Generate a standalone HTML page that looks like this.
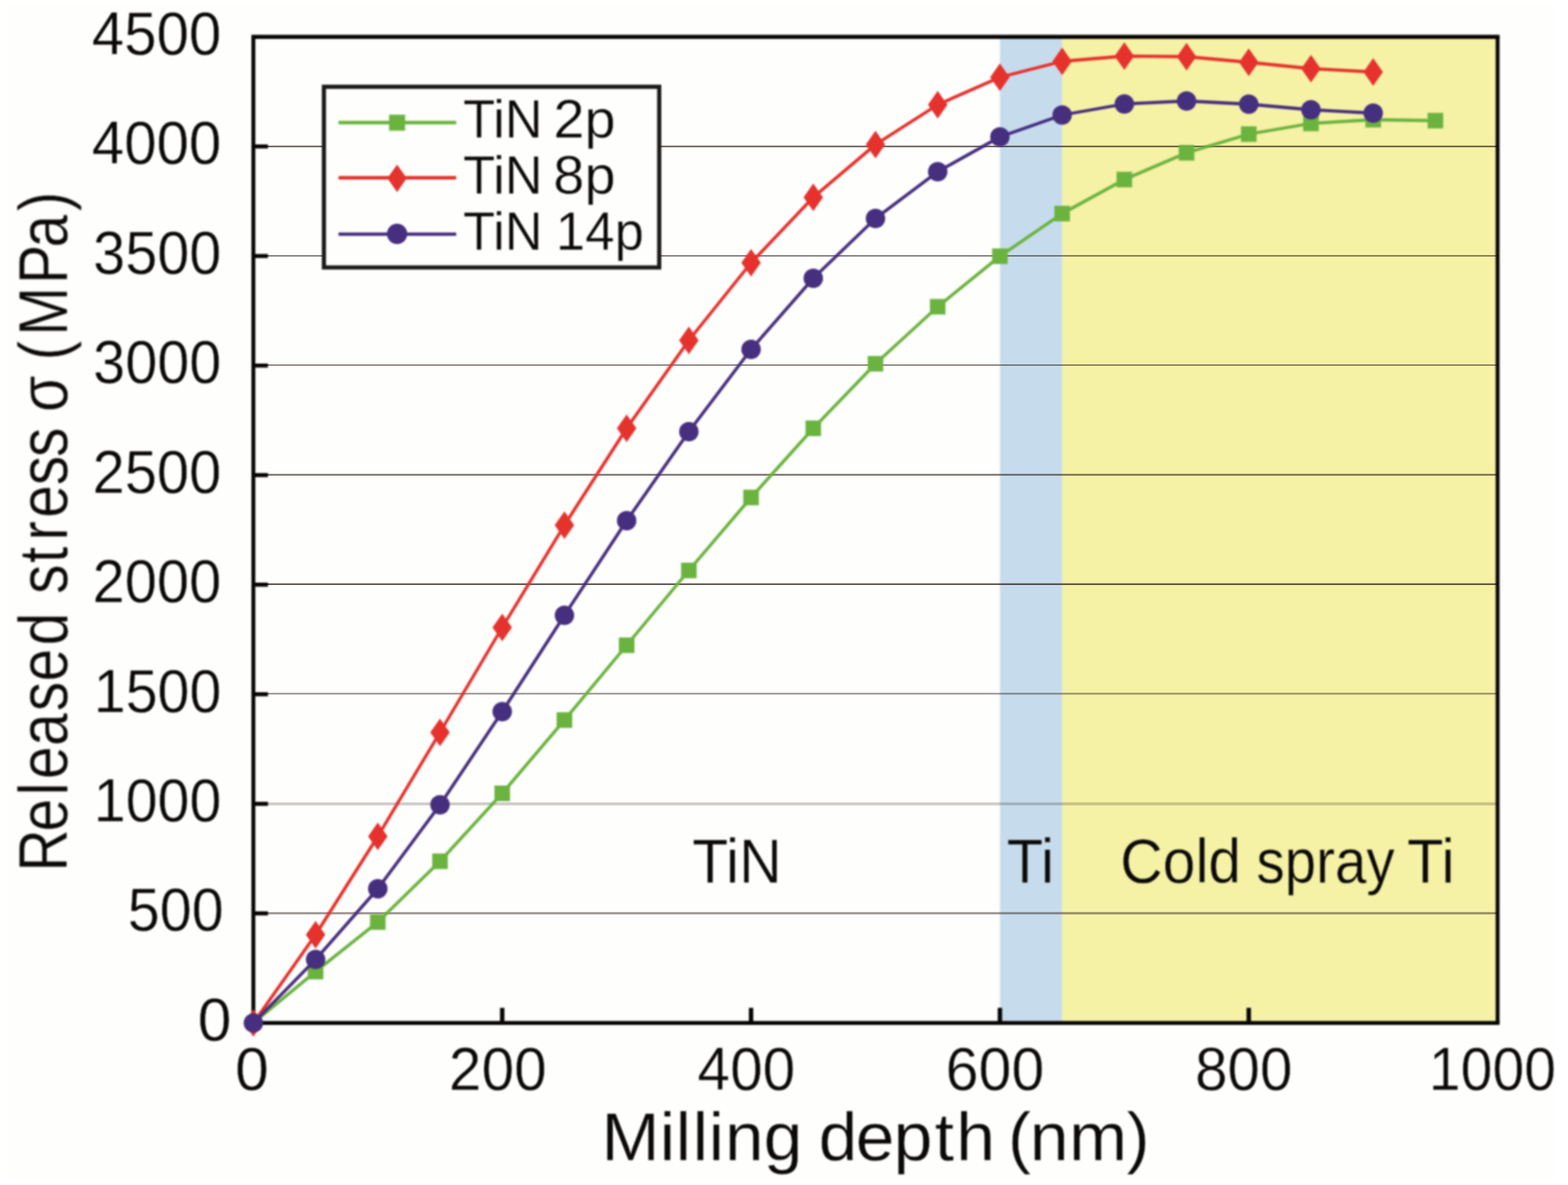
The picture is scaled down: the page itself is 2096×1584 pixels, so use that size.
<!DOCTYPE html>
<html lang="en"><head><meta charset="utf-8"><title>Released stress vs milling depth</title>
<style>html,body{margin:0;padding:0;background:#fff;}body{width:2096px;height:1584px;overflow:hidden;}svg{display:block;}text{font-family:"Liberation Sans",sans-serif;fill:#0b0a09;}</style>
</head><body>
<svg width="2096" height="1584" viewBox="0 0 2096 1584">
<defs><filter id="soft" x="0" y="0" width="2096" height="1584" filterUnits="userSpaceOnUse" color-interpolation-filters="sRGB"><feGaussianBlur stdDeviation="1.2"/></filter><filter id="soft3" x="0" y="0" width="2096" height="1584" filterUnits="userSpaceOnUse" color-interpolation-filters="sRGB"><feGaussianBlur stdDeviation="0.9"/></filter><filter id="soft2" x="0" y="0" width="2096" height="1584" filterUnits="userSpaceOnUse" color-interpolation-filters="sRGB"><feGaussianBlur stdDeviation="0.7"/></filter></defs>
<rect x="0" y="0" width="2096" height="1584" fill="#ffffff"/>
<g id="all" filter="url(#soft)">
<rect x="11" y="2" width="2068" height="1574" fill="#fefefc"/>
<rect x="1336.62" y="49.3" width="83.16" height="1318.1" fill="#c6dced"/>
<rect x="1419.78" y="49.3" width="582.12" height="1318.1" fill="#f5f1a5"/>
</g>
<g id="grid" filter="url(#soft2)" stroke="#2b1d17">
<line x1="338.7" x2="2001.9" y1="1220.64" y2="1220.64" stroke-opacity="0.46" stroke-width="3"/>
<line x1="338.7" x2="2001.9" y1="1074.49" y2="1074.49" stroke-opacity="0.22" stroke-width="3.8"/>
<line x1="338.7" x2="2001.9" y1="927.23" y2="927.23" stroke-opacity="0.42" stroke-width="2.4"/>
<line x1="338.7" x2="2001.9" y1="780.78" y2="780.78" stroke-opacity="0.74" stroke-width="2.2"/>
<line x1="338.7" x2="2001.9" y1="634.62" y2="634.62" stroke-opacity="0.65" stroke-width="2.3"/>
<line x1="338.7" x2="2001.9" y1="488.07" y2="488.07" stroke-opacity="0.53" stroke-width="2.1"/>
<line x1="338.7" x2="2001.9" y1="342.01" y2="342.01" stroke-opacity="0.56" stroke-width="2.2"/>
<line x1="338.7" x2="2001.9" y1="195.76" y2="195.76" stroke-opacity="0.74" stroke-width="2.1"/>
</g>
<g id="fg" filter="url(#soft)">
<line x1="338.7" x2="358.2" y1="1220.94" y2="1220.94" stroke="#070605" stroke-width="5.4"/>
<line x1="338.7" x2="358.2" y1="1074.49" y2="1074.49" stroke="#070605" stroke-width="5.4"/>
<line x1="338.7" x2="358.2" y1="928.03" y2="928.03" stroke="#070605" stroke-width="5.4"/>
<line x1="338.7" x2="358.2" y1="781.58" y2="781.58" stroke="#070605" stroke-width="5.4"/>
<line x1="338.7" x2="358.2" y1="635.12" y2="635.12" stroke="#070605" stroke-width="5.4"/>
<line x1="338.7" x2="358.2" y1="488.67" y2="488.67" stroke="#070605" stroke-width="5.4"/>
<line x1="338.7" x2="358.2" y1="342.21" y2="342.21" stroke="#070605" stroke-width="5.4"/>
<line x1="338.7" x2="358.2" y1="195.76" y2="195.76" stroke="#070605" stroke-width="5.4"/>
<line x1="671.34" x2="671.34" y1="1367.4" y2="1347.2" stroke="#070605" stroke-width="5.9"/>
<line x1="1003.98" x2="1003.98" y1="1367.4" y2="1347.2" stroke="#070605" stroke-width="5.9"/>
<line x1="1336.62" x2="1336.62" y1="1367.4" y2="1347.2" stroke="#070605" stroke-width="5.9"/>
<line x1="1669.26" x2="1669.26" y1="1367.4" y2="1347.2" stroke="#070605" stroke-width="5.9"/>
<path d="M336.1 49.3H2004.5" fill="none" stroke="#070605" stroke-width="5.6"/>
<path d="M336.1 1367.4H2004.5" fill="none" stroke="#070605" stroke-width="5.2"/>
<path d="M338.7 49.3V1367.4M2001.9 49.3V1367.4" fill="none" stroke="#070605" stroke-width="5.2"/>
<polyline points="338.7,1367.4 421.86,1298.75 505.02,1232.5 588.18,1151.25 671.34,1060.5 754.5,962.5 837.66,862.5 920.82,762.5 1003.98,665 1087.14,572.5 1170.3,486.25 1253.46,410 1336.62,342.5 1419.78,285.5 1502.94,240 1586.1,204.25 1669.26,179.25 1752.42,165 1835.58,160 1918.74,161.25" fill="none" stroke="#6bb33f" stroke-width="4.3" stroke-linejoin="round"/>
<rect x="411.46" y="1288.35" width="20.8" height="20.8" fill="#6bb33f"/>
<rect x="494.62" y="1222.1" width="20.8" height="20.8" fill="#6bb33f"/>
<rect x="577.78" y="1140.85" width="20.8" height="20.8" fill="#6bb33f"/>
<rect x="660.94" y="1050.1" width="20.8" height="20.8" fill="#6bb33f"/>
<rect x="744.1" y="952.1" width="20.8" height="20.8" fill="#6bb33f"/>
<rect x="827.26" y="852.1" width="20.8" height="20.8" fill="#6bb33f"/>
<rect x="910.42" y="752.1" width="20.8" height="20.8" fill="#6bb33f"/>
<rect x="993.58" y="654.6" width="20.8" height="20.8" fill="#6bb33f"/>
<rect x="1076.74" y="562.1" width="20.8" height="20.8" fill="#6bb33f"/>
<rect x="1159.9" y="475.85" width="20.8" height="20.8" fill="#6bb33f"/>
<rect x="1243.06" y="399.6" width="20.8" height="20.8" fill="#6bb33f"/>
<rect x="1326.22" y="332.1" width="20.8" height="20.8" fill="#6bb33f"/>
<rect x="1409.38" y="275.1" width="20.8" height="20.8" fill="#6bb33f"/>
<rect x="1492.54" y="229.6" width="20.8" height="20.8" fill="#6bb33f"/>
<rect x="1575.7" y="193.85" width="20.8" height="20.8" fill="#6bb33f"/>
<rect x="1658.86" y="168.85" width="20.8" height="20.8" fill="#6bb33f"/>
<rect x="1742.02" y="154.6" width="20.8" height="20.8" fill="#6bb33f"/>
<rect x="1825.18" y="149.6" width="20.8" height="20.8" fill="#6bb33f"/>
<rect x="1908.34" y="150.85" width="20.8" height="20.8" fill="#6bb33f"/>
<polyline points="338.7,1367.4 421.86,1249.5 505.02,1118 588.18,979 671.34,838.75 754.5,702 837.66,572.5 920.82,455 1003.98,351.25 1087.14,263.75 1170.3,193.25 1253.46,140 1336.62,103.25 1419.78,82 1502.94,75 1586.1,75.75 1669.26,83.25 1752.42,91.75 1835.58,96.25" fill="none" stroke="#e5322d" stroke-width="4.3" stroke-linejoin="round"/>
<polygon points="338.7,1349 351.7,1367.4 338.7,1385.8 325.7,1367.4" fill="#e5322d"/>
<polygon points="421.86,1231.1 434.86,1249.5 421.86,1267.9 408.86,1249.5" fill="#e5322d"/>
<polygon points="505.02,1099.6 518.02,1118 505.02,1136.4 492.02,1118" fill="#e5322d"/>
<polygon points="588.18,960.6 601.18,979 588.18,997.4 575.18,979" fill="#e5322d"/>
<polygon points="671.34,820.35 684.34,838.75 671.34,857.15 658.34,838.75" fill="#e5322d"/>
<polygon points="754.5,683.6 767.5,702 754.5,720.4 741.5,702" fill="#e5322d"/>
<polygon points="837.66,554.1 850.66,572.5 837.66,590.9 824.66,572.5" fill="#e5322d"/>
<polygon points="920.82,436.6 933.82,455 920.82,473.4 907.82,455" fill="#e5322d"/>
<polygon points="1003.98,332.85 1016.98,351.25 1003.98,369.65 990.98,351.25" fill="#e5322d"/>
<polygon points="1087.14,245.35 1100.14,263.75 1087.14,282.15 1074.14,263.75" fill="#e5322d"/>
<polygon points="1170.3,174.85 1183.3,193.25 1170.3,211.65 1157.3,193.25" fill="#e5322d"/>
<polygon points="1253.46,121.6 1266.46,140 1253.46,158.4 1240.46,140" fill="#e5322d"/>
<polygon points="1336.62,84.85 1349.62,103.25 1336.62,121.65 1323.62,103.25" fill="#e5322d"/>
<polygon points="1419.78,63.6 1432.78,82 1419.78,100.4 1406.78,82" fill="#e5322d"/>
<polygon points="1502.94,56.6 1515.94,75 1502.94,93.4 1489.94,75" fill="#e5322d"/>
<polygon points="1586.1,57.35 1599.1,75.75 1586.1,94.15 1573.1,75.75" fill="#e5322d"/>
<polygon points="1669.26,64.85 1682.26,83.25 1669.26,101.65 1656.26,83.25" fill="#e5322d"/>
<polygon points="1752.42,73.35 1765.42,91.75 1752.42,110.15 1739.42,91.75" fill="#e5322d"/>
<polygon points="1835.58,77.85 1848.58,96.25 1835.58,114.65 1822.58,96.25" fill="#e5322d"/>
<polyline points="338.7,1367.4 421.86,1282.5 505.02,1188 588.18,1075.75 671.34,951.25 754.5,822.5 837.66,696 920.82,577 1003.98,467 1087.14,372 1170.3,292 1253.46,229.5 1336.62,183 1419.78,153.75 1502.94,139 1586.1,135 1669.26,139.25 1752.42,146.75 1835.58,151.25" fill="none" stroke="#472f7f" stroke-width="4.3" stroke-linejoin="round"/>
<circle cx="338.7" cy="1367.4" r="13.0" fill="#472f7f"/>
<circle cx="421.86" cy="1282.5" r="13.0" fill="#472f7f"/>
<circle cx="505.02" cy="1188" r="13.0" fill="#472f7f"/>
<circle cx="588.18" cy="1075.75" r="13.0" fill="#472f7f"/>
<circle cx="671.34" cy="951.25" r="13.0" fill="#472f7f"/>
<circle cx="754.5" cy="822.5" r="13.0" fill="#472f7f"/>
<circle cx="837.66" cy="696" r="13.0" fill="#472f7f"/>
<circle cx="920.82" cy="577" r="13.0" fill="#472f7f"/>
<circle cx="1003.98" cy="467" r="13.0" fill="#472f7f"/>
<circle cx="1087.14" cy="372" r="13.0" fill="#472f7f"/>
<circle cx="1170.3" cy="292" r="13.0" fill="#472f7f"/>
<circle cx="1253.46" cy="229.5" r="13.0" fill="#472f7f"/>
<circle cx="1336.62" cy="183" r="13.0" fill="#472f7f"/>
<circle cx="1419.78" cy="153.75" r="13.0" fill="#472f7f"/>
<circle cx="1502.94" cy="139" r="13.0" fill="#472f7f"/>
<circle cx="1586.1" cy="135" r="13.0" fill="#472f7f"/>
<circle cx="1669.26" cy="139.25" r="13.0" fill="#472f7f"/>
<circle cx="1752.42" cy="146.75" r="13.0" fill="#472f7f"/>
<circle cx="1835.58" cy="151.25" r="13.0" fill="#472f7f"/>
<rect x="433" y="116" width="448.2" height="241.5" fill="#fefefc" stroke="#1c1b1a" stroke-width="5.6"/>
<line x1="452.5" x2="609.8" y1="163.8" y2="163.8" stroke="#6bb33f" stroke-width="4.7"/>
<rect x="520.1" y="153.3" width="21.4" height="21.4" fill="#6bb33f"/>
<line x1="452.5" x2="609.8" y1="237.6" y2="237.6" stroke="#e5322d" stroke-width="4.7"/>
<polygon points="530.8,219.9 543.8,238.3 530.8,256.7 517.8,238.3" fill="#e5322d"/>
<line x1="452.5" x2="609.8" y1="313.0" y2="313.0" stroke="#472f7f" stroke-width="4.7"/>
<circle cx="530.8" cy="312.6" r="13.6" fill="#472f7f"/>
</g>
<g id="labels" filter="url(#soft3)" stroke="#fefefc" stroke-width="0.5">
<text y="72.79" font-size="80.9"><tspan x="122.65" textLength="173.24" lengthAdjust="spacingAndGlyphs">4500</tspan></text>
<text y="219.25" font-size="80.9"><tspan x="122.65" textLength="173.24" lengthAdjust="spacingAndGlyphs">4000</tspan></text>
<text y="365.7" font-size="80.9"><tspan x="124.61" textLength="171.24" lengthAdjust="spacingAndGlyphs">3500</tspan></text>
<text y="512.16" font-size="80.9"><tspan x="124.61" textLength="171.24" lengthAdjust="spacingAndGlyphs">3000</tspan></text>
<text y="658.61" font-size="80.9"><tspan x="123.63" textLength="172.24" lengthAdjust="spacingAndGlyphs">2500</tspan></text>
<text y="805.07" font-size="80.9"><tspan x="123.63" textLength="172.24" lengthAdjust="spacingAndGlyphs">2000</tspan></text>
<text y="951.52" font-size="80.9"><tspan x="125.25" textLength="170.59" lengthAdjust="spacingAndGlyphs">1500</tspan></text>
<text y="1097.98" font-size="80.9"><tspan x="125.25" textLength="170.59" lengthAdjust="spacingAndGlyphs">1000</tspan></text>
<text y="1244.44" font-size="80.9"><tspan x="170.67" textLength="128.28" lengthAdjust="spacingAndGlyphs">500</tspan></text>
<text y="1390.89" font-size="80.9"><tspan x="264.25" textLength="45.13" lengthAdjust="spacingAndGlyphs">0</tspan></text>
<text y="1456.99" font-size="80.9"><tspan x="314.25" textLength="45.13" lengthAdjust="spacingAndGlyphs">0</tspan></text>
<text y="1456.99" font-size="80.9"><tspan x="600.08" textLength="130.68" lengthAdjust="spacingAndGlyphs">200</tspan></text>
<text y="1456.99" font-size="80.9"><tspan x="932.34" textLength="130.68" lengthAdjust="spacingAndGlyphs">400</tspan></text>
<text y="1456.99" font-size="80.9"><tspan x="1264.04" textLength="132" lengthAdjust="spacingAndGlyphs">600</tspan></text>
<text y="1456.99" font-size="80.9"><tspan x="1597.44" textLength="130.06" lengthAdjust="spacingAndGlyphs">800</tspan></text>
<text y="1456.99" font-size="80.9"><tspan x="1910.02" textLength="170.01" lengthAdjust="spacingAndGlyphs">1000</tspan></text>
<text y="1179.5" font-size="82.6"><tspan x="925.22" textLength="119.89" lengthAdjust="spacingAndGlyphs">TiN</tspan></text>
<text y="1179.5" font-size="82.6" stroke="#c6dced"><tspan x="1345.7" textLength="63.5" lengthAdjust="spacingAndGlyphs">Ti</tspan></text>
<text y="1179.5" font-size="82.6" stroke="#f5f1a5"><tspan x="1497.57" textLength="161.46" lengthAdjust="spacingAndGlyphs">Cold</tspan> <tspan x="1679.42" textLength="184.79" lengthAdjust="spacingAndGlyphs">spray</tspan> <tspan x="1880.95" textLength="63.5" lengthAdjust="spacingAndGlyphs">Ti</tspan></text>
<text y="183.9" font-size="71.8" fill="#1c1b1a"><tspan x="619.02" textLength="106.43" lengthAdjust="spacingAndGlyphs">TiN</tspan> <tspan x="739.66" textLength="83.2" lengthAdjust="spacingAndGlyphs">2p</tspan></text>
<text y="258.8" font-size="71.8" fill="#1c1b1a"><tspan x="619.02" textLength="106.43" lengthAdjust="spacingAndGlyphs">TiN</tspan> <tspan x="739.57" textLength="83.3" lengthAdjust="spacingAndGlyphs">8p</tspan></text>
<text y="333.6" font-size="71.8" fill="#1c1b1a"><tspan x="619.03" textLength="106.21" lengthAdjust="spacingAndGlyphs">TiN</tspan> <tspan x="743.01" textLength="117.68" lengthAdjust="spacingAndGlyphs">14p</tspan></text>
<text transform="translate(0 1551.2) scale(1.0231 1)" x="785.88 861.88 882.51 904.84 925.95 947.08 997.76 1048.48 1069.65 1117.95 1167.54 1221.21 1249.47 1300.2 1316.76 1345.42 1396.69 1471.86" y="0" font-size="91.2">Milling depth (nm)</text>
<text transform="translate(89.8 0) rotate(-90) scale(0.8515 1)" x="-1368.33 -1305.23 -1248.52 -1222.97 -1171.2 -1116.44 -1069.88 -1013.12 -961.67 -932.29 -883.88 -848.81 -812.98 -761.94 -717.61 -671.36 -646.62 -589.53 -565.78 -527.4 -446 -388.82 -331.8" y="0" font-size="92.5">Released stress σ (MPa)</text>
</g>
</svg>
</body></html>
